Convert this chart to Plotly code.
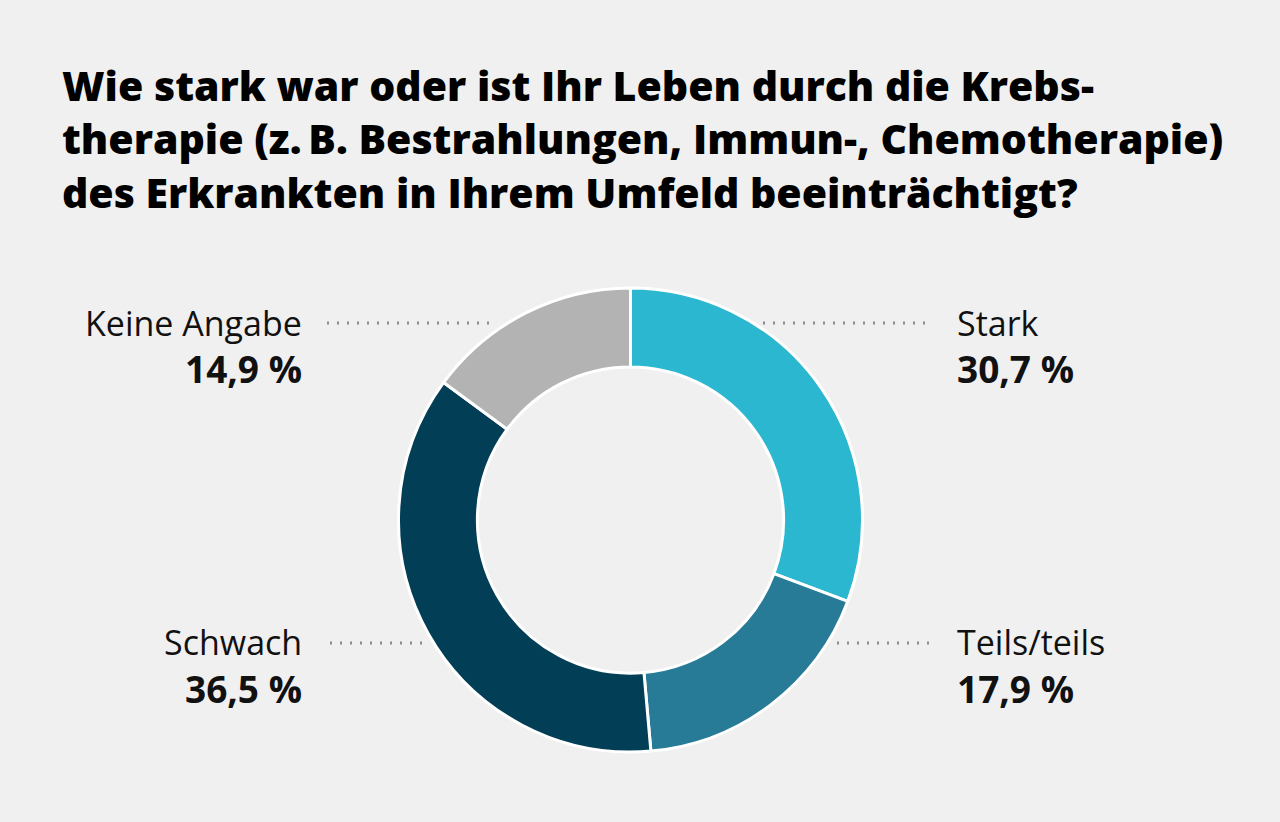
import plotly.graph_objects as go

labels = ["Stark", "Teils/teils", "Schwach", "Keine Angabe"]
values = [30.7, 17.9, 36.5, 14.9]
colors = ["#2bb7cf", "#277b96", "#023f57", "#b3b3b3"]
title_lines = [
    "Wie stark war oder ist Ihr Leben durch die Krebs-",
    "therapie (z.\u2009B. Bestrahlungen, Immun-, Chemotherapie)",
    "des Erkrankten in Ihrem Umfeld beeinträchtigt?",
]

W, H = 1280, 822
BG = "#f0f0f0"

def px(x):
    return x / W

def py(y):
    return 1 - y / H

def fmt(v):
    return f"{v:.1f}".replace(".", ",") + " %"

fig = go.Figure(go.Pie(
    labels=labels, values=values, sort=False, direction="clockwise", rotation=0,
    hole=0.66, marker=dict(colors=colors, line=dict(color="#ffffff", width=3)),
    textinfo="none", hoverinfo="label+percent", showlegend=False,
    domain=dict(x=[px(630.5 - 232), px(630.5 + 232)], y=[py(752), py(288)]),
))

# (anchor x, side, name baseline, value baseline, dotted x0, x1, y)
placements = {
    "Stark": (955, "left", 336, 383, 763, 932, 323),
    "Teils/teils": (955, "left", 655, 703, 837, 932, 643),
    "Schwach": (304, "right", 655, 703, 330, 425, 643),
    "Keine Angabe": (304, "right", 336, 383, 327, 497, 323),
}

NAME_SIZE = 34
VAL_SIZE = 37
TITLE_SIZE = 41

annotations = []
shapes = []
for lab, val in zip(labels, values):
    x, side, nb, vb, lx0, lx1, ly = placements[lab]
    annotations.append(dict(text=lab, x=px(x), y=py(nb - 0.388 * NAME_SIZE), xref="paper", yref="paper",
                            xanchor=side, yanchor="middle", showarrow=False,
                            font=dict(family="Open Sans", size=NAME_SIZE, color="#111111")))
    annotations.append(dict(text=fmt(val), x=px(x), y=py(vb - 0.388 * VAL_SIZE), xref="paper", yref="paper",
                            xanchor=side, yanchor="middle", showarrow=False,
                            font=dict(family="Open Sans", size=VAL_SIZE, color="#111111", weight=700)))
    shapes.append(dict(type="line", xref="paper", yref="paper", x0=px(lx0), x1=px(lx1),
                       y0=py(ly), y1=py(ly), line=dict(color="#8c8c8c", width=3, dash="2px,8px"),
                       layer="below"))

annotations.append(dict(text="<br>".join(title_lines), x=px(60), y=py(154 - 0.388 * TITLE_SIZE),
                        xref="paper", yref="paper", xanchor="left", yanchor="middle", align="left",
                        showarrow=False,
                        font=dict(family="Open Sans", size=TITLE_SIZE, color="#000000", weight=800)))

fig.update_layout(
    width=W, height=H, paper_bgcolor=BG, plot_bgcolor=BG,
    margin=dict(l=0, r=0, t=0, b=0),
    annotations=annotations, shapes=shapes,
)

fig.write_html(
    "out.html",
    config={"displayModeBar": False},
    post_script="document.body.style.margin='0';document.body.style.background='#f0f0f0';"
                "document.body.style.overflow='hidden';",
)
